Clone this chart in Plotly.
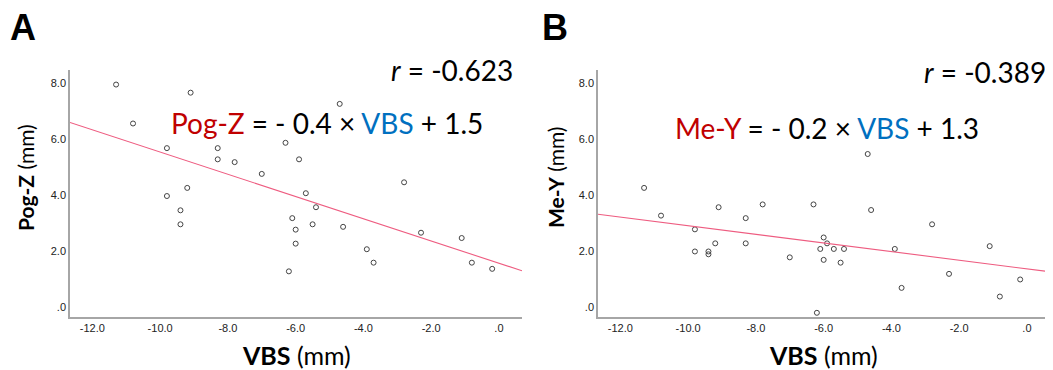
import plotly.graph_objects as go

# ---- data ----
vbs = [-11.3, -10.8, -9.8, -9.8, -9.4, -9.4, -9.2, -9.1, -8.3, -8.3,
       -7.8, -7.0, -6.3, -6.2, -6.1, -6.0, -6.0, -5.9, -5.7, -5.5,
       -5.4, -4.7, -4.6, -3.9, -3.7, -2.8, -2.3, -1.1, -0.8, -0.2]
pog_z = [7.94, 6.55, 5.67, 3.96, 3.45, 2.95, 4.25, 7.65, 5.67, 5.27,
         5.17, 4.75, 5.86, 1.27, 3.17, 2.76, 2.26, 5.27, 4.06, 2.95,
         3.56, 7.25, 2.86, 2.06, 1.58, 4.45, 2.65, 2.46, 1.58, 1.36]
me_y = [4.25, 3.26, 2.77, 1.98, 1.98, 1.88, 2.27, 3.56, 3.17, 2.27,
        3.66, 1.77, 3.66, -0.21, 2.07, 2.48, 1.68, 2.27, 2.07, 1.58,
        2.07, 5.46, 3.46, 2.07, 0.68, 2.95, 1.18, 2.17, 0.37, 0.98]

fit_slope = [-0.397, -0.154]
fit_intercept = [1.56, 1.36]

x_tickvals = [-12, -10, -8, -6, -4, -2, 0]
x_ticktext = ["-12.0", "-10.0", "-8.0", "-6.0", "-4.0", "-2.0", ".0"]
y_tickvals = [0, 2, 4, 6, 8]
y_ticktext = [".0", "2.0", "4.0", "6.0", "8.0"]

x_range = [-12.66, 0.68]
y_range = [-0.36, 8.46]

panel_letters = ["A", "B"]
y_names = ["Pog-Z", "Me-Y"]
eq_coef = ["- 0.4", "- 0.2"]
eq_const = ["1.5", "1.3"]
r_values = ["-0.623", "-0.389"]

OFF = 8  # page body margin
W, H = 1053 - OFF, 370 - OFF
RED = "#C00000"
BLUE = "#0070C0"
TXT_FONT = "Lato"


def px(x):
    return (x - OFF) / W


def py(y):
    return 1 - (y - OFF) / H


fig = go.Figure()

series = [pog_z, me_y]
x_domains = [[px(70), px(522)], [px(598), px(1050)]]
y_domain = [py(317), py(70)]

for i in range(2):
    xa = "x" if i == 0 else "x2"
    ya = "y" if i == 0 else "y2"
    fig.add_trace(go.Scatter(
        x=vbs, y=series[i], mode="markers", xaxis=xa, yaxis=ya,
        marker=dict(symbol="circle-open", size=5, color="#444444",
                    line=dict(width=1, color="#444444")),
        showlegend=False, hoverinfo="x+y"))
    lx = [x_range[0], x_range[1]]
    ly = [fit_slope[i] * v + fit_intercept[i] for v in lx]
    fig.add_trace(go.Scatter(
        x=lx, y=ly, mode="lines", xaxis=xa, yaxis=ya,
        line=dict(color="#EE5C80", width=1.1),
        showlegend=False, hoverinfo="skip"))

axis_common = dict(showgrid=False, zeroline=False, showline=True,
                   linecolor="#A6A6A6", linewidth=1.5, ticks="",
                   tickfont=dict(family="Liberation Sans, Arial", size=11, color="#222222"))

fig.update_layout(
    width=W, height=H,
    margin=dict(l=0, r=0, t=0, b=0),
    paper_bgcolor="white", plot_bgcolor="white",
    xaxis=dict(domain=x_domains[0], range=x_range, tickvals=x_tickvals,
               ticktext=x_ticktext, anchor="y", **axis_common),
    yaxis=dict(domain=y_domain, range=y_range, tickvals=y_tickvals,
               ticktext=y_ticktext, anchor="x", **axis_common),
    xaxis2=dict(domain=x_domains[1], range=x_range, tickvals=x_tickvals,
                ticktext=x_ticktext, anchor="y2", **axis_common),
    yaxis2=dict(domain=y_domain, range=y_range, tickvals=y_tickvals,
                ticktext=y_ticktext, anchor="x2", **axis_common),
)

ann = []
for i in range(2):
    xc = [296, 824][i]
    # panel letter
    letter_x = [8, 540][i]
    ann.append(dict(text=f"<b>{panel_letters[i]}</b>", x=px(letter_x), y=py(28),
                    xref="paper", yref="paper", xanchor="left", yanchor="middle",
                    showarrow=False, font=dict(family="Liberation Sans, Arial", size=36, color="black")))
    # x title
    ann.append(dict(text="<b>VBS</b> (mm)", x=px(xc), y=py(355),
                    xref="paper", yref="paper", xanchor="center", yanchor="middle",
                    showarrow=False, font=dict(family=TXT_FONT, size=25, color="black")))
    # y title
    ytx = [25, 555][i]
    ann.append(dict(text=f"<b>{y_names[i]}</b> (mm)", x=px(ytx), y=py(178), textangle=-90,
                    xref="paper", yref="paper", xanchor="center", yanchor="middle",
                    showarrow=False, font=dict(family=TXT_FONT, size=21, color="black")))
    # equation
    eqx = [327, 827][i]
    eqy = [123, 128][i]
    ann.append(dict(
        text=(f'<span style="color:{RED}">{y_names[i]}</span> = {eq_coef[i]} × '
              f'<span style="color:{BLUE}">VBS</span> + {eq_const[i]}'),
        x=px(eqx), y=py(eqy), xref="paper", yref="paper", xanchor="center", yanchor="middle",
        showarrow=False, font=dict(family=TXT_FONT, size=28, color="black")))
    # r value
    rx = [515, 1048][i]
    ry = [70, 72][i]
    ann.append(dict(text=f"<i>r</i> = {r_values[i]}", x=px(rx), y=py(ry),
                    xref="paper", yref="paper", xanchor="right", yanchor="middle",
                    showarrow=False, font=dict(family=TXT_FONT, size=28, color="black")))

fig.update_layout(annotations=ann)
fig.write_html("out.html")
